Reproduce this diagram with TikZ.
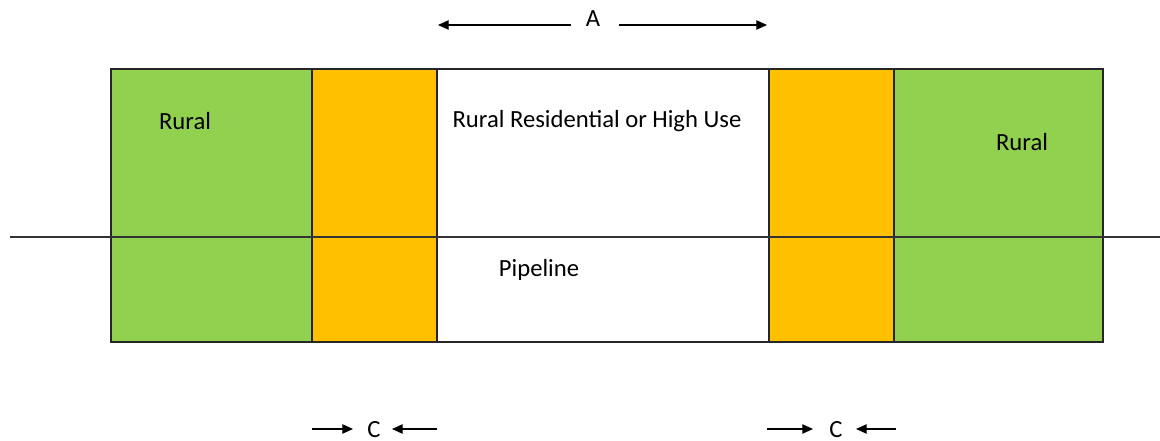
\documentclass[tikz,border=0pt]{standalone}
\usepackage{fontspec}
\setmainfont{Carlito}
\usetikzlibrary{arrows.meta}
\definecolor{rgreen}{HTML}{92D050}
\definecolor{rorange}{HTML}{FFC000}
\tikzset{
  zone/.style={draw=black!85, line width=1pt, inner sep=0pt, outer sep=0pt},
  lbl/.style={font=\fontsize{18.5}{20}\selectfont, text=black, inner sep=0pt},
  dim/.style={line width=0.9pt, -{Stealth[length=8pt,width=7pt,inset=0pt]}},
}
\begin{document}
\begin{tikzpicture}[x=0.75pt,y=-0.75pt]
\useasboundingbox (0,0) rectangle (1160,441);
% zones
\path[zone,fill=rgreen] (111,69) rectangle (312,342);
\path[zone,fill=rorange] (312,69) rectangle (437,342);
\path[zone,fill=white] (437,69) rectangle (769,342);
\path[zone,fill=rorange] (769,69) rectangle (894,342);
\path[zone,fill=rgreen] (894,69) rectangle (1103,342);
% pipeline line
\coordinate (p1) at (10,237);
\coordinate (p2) at (1160,237);
\draw[line width=0.9pt, black!80] (p1) -- (p2);
% labels
\node[lbl] (rl) at (185,121) {Rural};
\node[lbl] (rr) at (1022,142) {Rural};
\node[lbl] (rh) at (597,121) {Rural Residential or High Use};
\node[lbl] (pl) at (539,270) {Pipeline};
% A dimension
\node[lbl] (A) at (593,19) {A};
\coordinate (a1) at (571,25);
\coordinate (a2) at (438,25);
\coordinate (a3) at (619,25);
\coordinate (a4) at (767,25);
\draw[dim] (a1) -- (a2);
\draw[dim] (a3) -- (a4);
% C dimensions
\node[lbl] (C1) at (374,429.5) {C};
\node[lbl] (C2) at (836,429.5) {C};
\coordinate (c1) at (312,429);
\coordinate (c2) at (353,429);
\coordinate (c3) at (437,429);
\coordinate (c4) at (392,429);
\coordinate (c5) at (767,429);
\coordinate (c6) at (813,429);
\coordinate (c7) at (896,429);
\coordinate (c8) at (856,429);
\draw[dim] (c1) -- (c2);
\draw[dim] (c3) -- (c4);
\draw[dim] (c5) -- (c6);
\draw[dim] (c7) -- (c8);
\end{tikzpicture}
\end{document}
